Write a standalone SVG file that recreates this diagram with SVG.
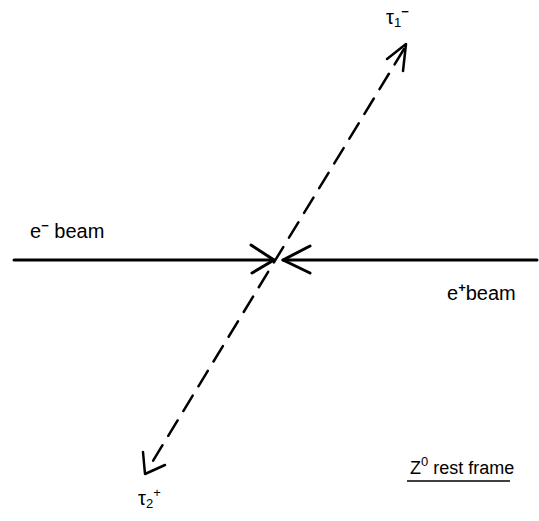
<svg xmlns="http://www.w3.org/2000/svg" width="539" height="521" viewBox="0 0 539 521">
<style>
.t{font-family:"Liberation Sans",Arial,sans-serif;font-size:18px;fill:#000}
.b{font-size:20px}
.s{font-size:13px;font-weight:bold}
.n{font-size:13px;font-weight:normal}
.ln{stroke:#000;fill:none;stroke-linecap:round;stroke-linejoin:round}
</style>
<rect width="539" height="521" fill="#fff"/>
<g id="connectors">
<line class="ln" x1="14" y1="260" x2="274" y2="260" stroke-width="3"/>
<line class="ln" x1="283" y1="260" x2="537" y2="260" stroke-width="3"/>
<polyline class="ln" points="251,245 274,260 252,273" stroke-width="3"/>
<polyline class="ln" points="310,246 283,260 310,273" stroke-width="3"/>
<line class="ln" x1="404" y1="49" x2="148" y2="469" stroke-width="2.5" stroke-dasharray="18 11"/>
<polyline class="ln" points="387,59 406,44 403,71" stroke-width="2.5"/>
<polyline class="ln" points="143,452 145,474 165,465" stroke-width="2.5"/>
</g>
<g id="tau1"><text class="t b" x="386" y="24">τ<tspan class="n" dy="3">1</tspan><tspan class="s" dy="-11">−</tspan></text></g>
<g id="eminus"><text class="t b" x="30" y="238">e<tspan class="s" dy="-8">−</tspan><tspan dy="8"> beam</tspan></text></g>
<g id="eplus"><text class="t b" x="447" y="300">e<tspan class="s" dy="-8">+</tspan><tspan dy="8">beam</tspan></text></g>
<g id="tau2"><text class="t b" x="138" y="505">τ<tspan class="n" dy="3">2</tspan><tspan class="n" dy="-11">+</tspan></text></g>
<g id="frame"><text class="t" x="410" y="474">Z<tspan class="n" dy="-8">0</tspan><tspan dy="8"> rest frame</tspan></text>
<line x1="407" y1="481" x2="510" y2="481" stroke="#000" stroke-width="1.5"/></g>
</svg>
